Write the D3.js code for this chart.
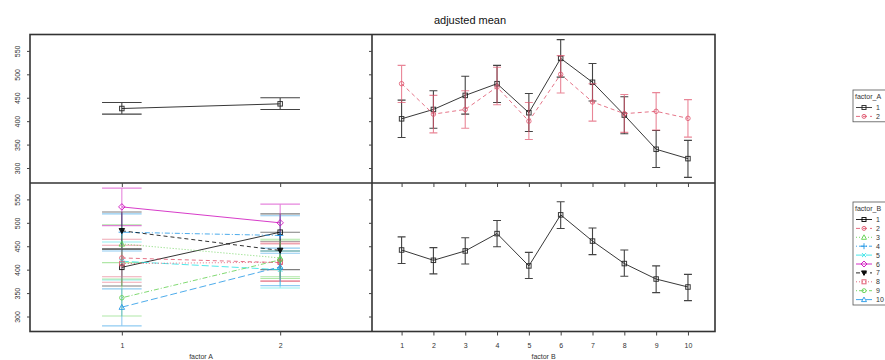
<!DOCTYPE html>
<html><head><meta charset="utf-8">
<script src="https://cdn.jsdelivr.net/npm/d3@7"></script>
<style>
html,body{margin:0;padding:0;background:#fff;}
svg{display:block;font-family:"Liberation Sans",Arial,sans-serif;}
</style></head>
<body>
<svg id="chart" width="885" height="360"></svg>
<script>
// ---------- data ----------
const title = "adjusted mean";
const factorA = [1, 2];
const factorB = [1, 2, 3, 4, 5, 6, 7, 8, 9, 10];
const yTicks = [300, 350, 400, 450, 500, 550];

// marginal means of factor A
const meanA = [427, 437];
const lowA  = [415, 425];
const highA = [440, 450];

// marginal means of factor B
const meanB = [442, 420, 440, 477, 408, 517, 461, 413, 380, 363];
const lowB  = [413, 391, 412, 449, 381, 488, 432, 386, 351, 334];
const highB = [470, 447, 468, 505, 437, 545, 489, 442, 408, 390];

// cell means (factor A level x factor B level)
const cellA1 = [405, 425, 455, 480, 418, 534, 483, 413, 340, 320];
const lowA1  = [365, 385, 415, 440, 378, 494, 443, 373, 301, 280];
const highA1 = [445, 465, 496, 519, 459, 574, 523, 452, 380, 359];
const cellA2 = [480, 415, 425, 473, 400, 500, 441, 416, 421, 406];
const lowA2  = [440, 375, 385, 435, 361, 460, 400, 376, 381, 366];
const highA2 = [519, 455, 465, 515, 440, 540, 480, 457, 461, 446];

// ---------- styles ----------
const palette = ["#000000", "#DF536B", "#61D04F", "#2297E6", "#28E2E5", "#CD0BBC"];
const dashes = [null, "4,3", "1,2", "1,2,5,2", "7,3"];
const shapes = ["square", "circle", "triangle", "plus", "cross", "diamond", "tridown"];
const colOf = i => palette[i % 6];
const dashOf = i => dashes[i % 5];
const shapeOf = i => shapes[i % 7];

const svg = d3.select("#chart");
const X0 = 30, XM = 372, X1 = 715, Y0 = 34.5, YM = 183, Y1 = 331.5;
const yDomain = [268, 585];
const yTop = d3.scaleLinear().domain(yDomain).range([YM, Y0]);
const yBot = d3.scaleLinear().domain(yDomain).range([Y1, YM]);
const xA = d3.scaleLinear().domain([0.42, 2.58]).range([X0, XM]);
const xB = d3.scaleLinear().domain([0.07, 10.85]).range([XM, X1]);

function symbol(g, type, color, cx, cy, s, op) {
  const h = s / 2;
  const a = {stroke: color, "stroke-width": 1, fill: "none", "stroke-opacity": op};
  let el;
  if (type === "square") el = g.append("rect").attr("x", cx - h).attr("y", cy - h).attr("width", s).attr("height", s);
  else if (type === "circle") el = g.append("circle").attr("cx", cx).attr("cy", cy).attr("r", h);
  else if (type === "triangle") el = g.append("path").attr("d", `M${cx},${cy - h - 0.5}L${cx + h + 0.5},${cy + h}L${cx - h - 0.5},${cy + h}Z`);
  else if (type === "tridown") { el = g.append("path").attr("d", `M${cx},${cy + h + 0.5}L${cx + h + 0.5},${cy - h}L${cx - h - 0.5},${cy - h}Z`); a.fill = color; a["fill-opacity"] = op; }
  else if (type === "plus") el = g.append("path").attr("d", `M${cx - h - 1},${cy}H${cx + h + 1}M${cx},${cy - h - 1}V${cy + h + 1}`);
  else if (type === "cross") el = g.append("path").attr("d", `M${cx - h},${cy - h}L${cx + h},${cy + h}M${cx - h},${cy + h}L${cx + h},${cy - h}`);
  else if (type === "diamond") el = g.append("path").attr("d", `M${cx},${cy - h - 1}L${cx + h + 1},${cy}L${cx},${cy + h + 1}L${cx - h - 1},${cy}Z`);
  Object.entries(a).forEach(([k, v]) => el.attr(k, v));
}

function errbar(g, x, yl, yh, cap, color, op) {
  g.append("path")
    .attr("d", `M${x},${yl}V${yh}M${x - cap},${yl}H${x + cap}M${x - cap},${yh}H${x + cap}`)
    .attr("stroke", color).attr("stroke-opacity", op).attr("stroke-width", 1.1).attr("fill", "none");
}

function series(g, xs, means, lows, highs, x, y, cap, color, dash, shape, lineOp, barOp) {
  errbar; 
  xs.forEach((v, i) => errbar(g, x(v), y(lows[i]), y(highs[i]), cap, color, barOp));
  g.append("path")
    .datum(xs.map((v, i) => [x(v), y(means[i])]))
    .attr("d", d3.line())
    .attr("fill", "none").attr("stroke", color).attr("stroke-width", 1)
    .attr("stroke-opacity", lineOp)
    .attr("stroke-dasharray", dash);
  xs.forEach((v, i) => symbol(g, shape, color, x(v), y(means[i]), 4.5, lineOp));
}

const capA = xA(1.125) - xA(1);
const capB = xB(1.125) - xB(1);

// ---------- panels ----------
const plot = svg.append("g");

// top-left: factor A main effect
series(plot, factorA, meanA, lowA, highA, xA, yTop, capA, "#222", null, "square", 0.9, 0.85);

// top-right: factor B by factor A
series(plot, factorB, cellA1, lowA1, highA1, xB, yTop, capB, "#222", null, "square", 0.9, 0.85);
series(plot, factorB, cellA2, lowA2, highA2, xB, yTop, capB, "#DF536B", "4,3", "circle", 0.8, 0.7);

// bottom-left: factor A by factor B
const cellsByB = factorB.map((b, i) => ({
  m: [cellA1[i], cellA2[i]], l: [lowA1[i], lowA2[i]], h: [highA1[i], highA2[i]]
}));
cellsByB.forEach((c, i) => {
  const gB = plot.append("g");
  factorA.forEach((v, j) => errbar(gB, xA(v), yBot(c.l[j]), yBot(c.h[j]), capA, colOf(i), 0.5));
});
cellsByB.forEach((c, i) => {
  const gB = plot.append("g");
  gB.append("path")
    .datum(factorA.map((v, j) => [xA(v), yBot(c.m[j])]))
    .attr("d", d3.line()).attr("fill", "none")
    .attr("stroke", colOf(i)).attr("stroke-width", 1).attr("stroke-opacity", 0.8)
    .attr("stroke-dasharray", dashOf(i));
  factorA.forEach((v, j) => symbol(gB, shapeOf(i), colOf(i), xA(v), yBot(c.m[j]), 4.5, 0.85));
});

// bottom-right: factor B main effect
series(plot, factorB, meanB, lowB, highB, xB, yBot, capB, "#222", null, "square", 0.9, 0.85);

// ---------- frames ----------
const frame = svg.append("g").attr("fill", "none").attr("stroke", "#333").attr("stroke-width", 1.6);
frame.append("rect").attr("x", X0).attr("y", Y0).attr("width", X1 - X0).attr("height", Y1 - Y0);
frame.append("line").attr("x1", XM).attr("x2", XM).attr("y1", Y0).attr("y2", Y1);
frame.append("line").attr("x1", X0).attr("x2", X1).attr("y1", YM).attr("y2", YM);

// ---------- axes ----------
function styleAxis(g) {
  g.select(".domain").remove();
  g.selectAll("line").attr("stroke", "#444");
  g.selectAll("text").attr("fill", "#333").attr("font-size", 7)
    .attr("font-family", "Liberation Sans, Arial, sans-serif");
}
// y axes, left (with labels)
[yTop, yBot].forEach(y => {
  const g = svg.append("g").attr("transform", `translate(${X0},0)`)
    .call(d3.axisLeft(y).tickValues(yTicks).tickSize(3).tickFormat(d3.format("d")));
  styleAxis(g);
  g.selectAll("text").attr("x", 0).attr("dy", 0).attr("text-anchor", "middle")
    .attr("transform", "translate(-10.5,0) rotate(-90)");
});
// y ticks of right column (no labels)
[yTop, yBot].forEach(y => {
  const g = svg.append("g").attr("transform", `translate(${XM},0)`)
    .call(d3.axisLeft(y).tickValues(yTicks).tickSize(3).tickFormat(""));
  styleAxis(g);
});
// x ticks under the top panels (no labels)
[[xA, factorA], [xB, factorB]].forEach(([x, vals]) => {
  const g = svg.append("g").attr("transform", `translate(0,${YM})`)
    .call(d3.axisBottom(x).tickValues(vals).tickSize(4).tickFormat(""));
  styleAxis(g);
});
// x axes at bottom with labels
[[xA, factorA], [xB, factorB]].forEach(([x, vals]) => {
  const g = svg.append("g").attr("transform", `translate(0,${Y1})`)
    .call(d3.axisBottom(x).tickValues(vals).tickSize(4).tickPadding(8).tickFormat(d3.format("d")));
  styleAxis(g);
});
svg.append("text").attr("x", (X0 + XM) / 2).attr("y", 359).attr("text-anchor", "middle")
  .attr("font-size", 7).attr("fill", "#333").text("factor  A");
svg.append("text").attr("x", (XM + X1) / 2).attr("y", 359).attr("text-anchor", "middle")
  .attr("font-size", 7).attr("fill", "#333").text("factor  B");

// title
svg.append("text").attr("x", 470).attr("y", 24).attr("text-anchor", "middle")
  .attr("font-size", 11).attr("fill", "#111").text(title);

// ---------- legends ----------
function legend(y0, name, items) {
  const g = svg.append("g");
  const rowH = 8.9;
  const h = 14 + items.length * rowH;
  g.append("rect").attr("x", 853).attr("y", y0).attr("width", 60).attr("height", h)
    .attr("fill", "#fff").attr("stroke", "#555").attr("stroke-width", 0.8);
  g.append("text").attr("x", 855).attr("y", y0 + 9).attr("font-size", 7).attr("fill", "#333").text(name);
  items.forEach((it, i) => {
    const cy = y0 + 17.5 + i * rowH;
    g.append("line").attr("x1", 856).attr("x2", 872).attr("y1", cy).attr("y2", cy)
      .attr("stroke", it.color).attr("stroke-width", 1).attr("stroke-opacity", 0.85)
      .attr("stroke-dasharray", it.dash);
    symbol(g, it.shape, it.color, 864, cy, 4, 0.9);
    g.append("text").attr("x", 876).attr("y", cy + 2.5).attr("font-size", 7).attr("fill", "#333").text(it.label);
  });
}
legend(90, "factor_A", [
  {label: String(factorA[0]), color: "#222", dash: null, shape: "square"},
  {label: String(factorA[1]), color: "#DF536B", dash: "4,3", shape: "circle"}
]);
legend(202, "factor_B", factorB.map((b, i) => ({
  label: String(b), color: colOf(i), dash: dashOf(i), shape: shapeOf(i)
})));
</script>
</body></html>
